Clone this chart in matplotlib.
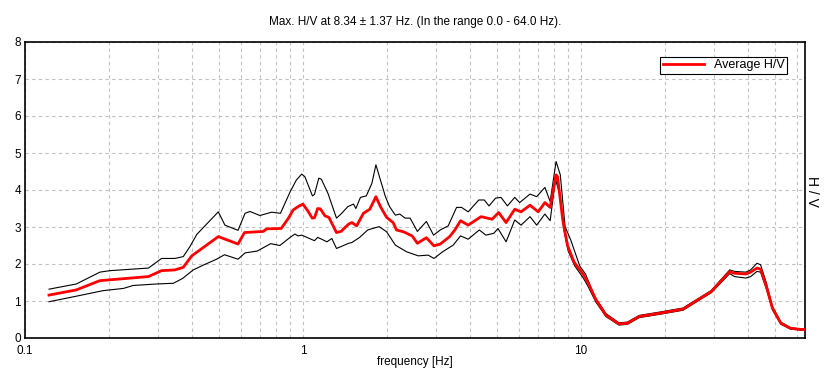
import matplotlib
matplotlib.use("Agg")
import matplotlib.pyplot as plt
from matplotlib.ticker import LogLocator, FixedLocator, NullFormatter, FixedFormatter

plt.rcParams['font.family'] = ['Liberation Sans', 'DejaVu Sans']

title = "Max. H/V at 8.34 \u00b1 1.37 Hz. (In the range 0.0 - 64.0 Hz)."
xlabel = "frequency [Hz]"
ylabel = "H / V"
legend_label = "Average H/V"
x_ticks = [0.1, 1, 10]
x_ticklabels = ["0.1", "1", "10"]
y_ticks = [0, 1, 2, 3, 4, 5, 6, 7, 8]

# Average H/V curve
avg_f = [0.122, 0.153, 0.186, 0.278, 0.310, 0.346, 0.371, 0.398, 0.496, 0.584, 0.616,
         0.720, 0.740, 0.835, 0.887, 0.922, 0.960, 0.999, 1.04, 1.08, 1.10, 1.13, 1.155,
         1.20, 1.24, 1.32, 1.37, 1.46, 1.50, 1.56, 1.65, 1.74, 1.83, 1.90, 2.00, 2.11,
         2.17, 2.30, 2.47, 2.58, 2.78, 2.96, 3.12, 3.37, 3.52, 3.69, 3.93, 4.37, 4.79,
         5.06, 5.38, 5.78, 6.09, 6.56, 7.02, 7.42, 7.75, 8.14, 8.24, 8.6, 8.95, 9.45,
         10.2, 10.6, 11.3, 12.3, 13.7, 14.7, 16.2, 19.2, 23.3, 26.6, 29.4, 34.3, 35.7,
         39.2, 40.8, 43.0, 44.3, 46.5, 48.9, 52.4, 56.8, 62.4, 64.0]
avg_v = [1.16, 1.30, 1.55, 1.66, 1.82, 1.84, 1.91, 2.22, 2.74, 2.54, 2.85,
         2.88, 2.95, 2.96, 3.24, 3.46, 3.55, 3.62, 3.44, 3.24, 3.25, 3.50, 3.49,
         3.30, 3.26, 2.85, 2.88, 3.08, 3.12, 3.03, 3.37, 3.48, 3.82, 3.55, 3.26, 3.12,
         2.92, 2.87, 2.76, 2.56, 2.71, 2.49, 2.54, 2.74, 2.92, 3.17, 3.05, 3.28, 3.21,
         3.39, 3.12, 3.48, 3.41, 3.59, 3.41, 3.66, 3.53, 4.41, 4.36, 3.20, 2.50, 2.05,
         1.72, 1.50, 1.05, 0.62, 0.38, 0.40, 0.58, 0.67, 0.78, 1.05, 1.25, 1.79, 1.75,
         1.73, 1.78, 1.89, 1.86, 1.39, 0.80, 0.40, 0.26, 0.23, 0.23]

# Upper bound curve
up_f = [0.122, 0.153, 0.186, 0.202, 0.278, 0.310, 0.346, 0.371, 0.392, 0.415, 0.496,
        0.524, 0.584, 0.619, 0.645, 0.700, 0.771, 0.830, 0.899, 0.947, 0.990, 1.016,
        1.082, 1.10, 1.14, 1.165, 1.23, 1.32, 1.37, 1.45, 1.52, 1.55, 1.61, 1.69, 1.77,
        1.83, 1.90, 1.98, 2.05, 2.15, 2.23, 2.33, 2.43, 2.58, 2.78, 2.95, 3.12, 3.33,
        3.57, 3.72, 3.93, 4.29, 4.49, 4.67, 4.93, 5.16, 5.44, 5.78, 6.02, 6.56, 6.93,
        7.42, 7.75, 8.14, 8.43, 8.77, 9.19, 9.9, 10.4, 11.2, 12.3, 13.7, 14.7, 16.2,
        19.2, 23.3, 26.6, 29.4, 34.3, 35.7, 39.2, 40.8, 43.0, 44.3, 46.5, 48.9, 52.4,
        56.8, 62.4, 64.0]
up_v = [1.32, 1.46, 1.78, 1.82, 1.89, 2.15, 2.15, 2.20, 2.47, 2.80, 3.41,
        3.05, 2.91, 3.37, 3.42, 3.31, 3.40, 3.37, 3.95, 4.27, 4.43, 4.36,
        3.84, 3.88, 4.32, 4.29, 3.91, 3.24, 3.35, 3.55, 3.62, 3.50, 3.80, 3.84, 4.18,
        4.68, 4.27, 3.82, 3.55, 3.32, 3.35, 3.24, 3.24, 2.88, 3.15, 2.78, 2.92, 3.03,
        3.53, 3.53, 3.41, 3.73, 3.73, 3.57, 3.78, 3.80, 3.57, 3.80, 3.66, 3.89, 3.82,
        4.07, 3.69, 4.77, 4.41, 3.01, 2.65, 1.95, 1.72, 1.12, 0.66, 0.41, 0.43, 0.61,
        0.70, 0.81, 1.08, 1.28, 1.84, 1.80, 1.78, 1.84, 2.02, 1.98, 1.48, 0.85, 0.43,
        0.28, 0.24, 0.24]

# Lower bound curve
lo_f = [0.122, 0.153, 0.191, 0.226, 0.245, 0.298, 0.342, 0.369, 0.403, 0.438, 0.489,
        0.522, 0.584, 0.619, 0.685, 0.765, 0.826, 0.899, 0.935, 0.960, 0.990, 1.10,
        1.13, 1.22, 1.27, 1.32, 1.37, 1.46, 1.50, 1.60, 1.71, 1.88, 2.00, 2.15, 2.36,
        2.60, 2.82, 2.96, 3.18, 3.47, 3.69, 3.93, 4.31, 4.55, 4.86, 5.03, 5.38, 5.78,
        6.09, 6.56, 6.93, 7.42, 7.75, 8.1, 8.43, 8.66, 9.0, 9.5, 10.2, 10.6, 11.3,
        12.3, 13.7, 14.7, 16.2, 19.2, 23.3, 26.6, 29.4, 34.3, 35.7, 39.2, 40.8, 43.0,
        44.3, 46.5, 48.9, 52.4, 56.8, 62.4, 64.0]
lo_v = [0.98, 1.13, 1.28, 1.34, 1.42, 1.46, 1.48, 1.61, 1.84, 1.97, 2.13,
        2.25, 2.13, 2.30, 2.35, 2.55, 2.50, 2.72, 2.81, 2.76, 2.78, 2.63,
        2.72, 2.60, 2.69, 2.42, 2.47, 2.56, 2.58, 2.72, 2.92, 3.01, 2.87, 2.51, 2.33,
        2.22, 2.24, 2.15, 2.33, 2.51, 2.76, 2.67, 2.92, 2.78, 2.83, 2.96, 2.60, 3.19,
        3.05, 3.28, 3.05, 3.35, 3.17, 4.29, 3.82, 2.96, 2.35, 1.95, 1.62, 1.40, 0.98,
        0.58, 0.35, 0.37, 0.55, 0.64, 0.75, 1.02, 1.22, 1.74, 1.66, 1.62, 1.66, 1.80,
        1.78, 1.32, 0.76, 0.37, 0.24, 0.21, 0.21]

fig = plt.figure(figsize=(8.26, 3.81), dpi=100)
fig.patch.set_facecolor("white")
ax = fig.add_axes([25/826, 1-338/381, 780/826, 296/381])

ax.plot(up_f, up_v, color="black", lw=0.8, zorder=3)
ax.plot(lo_f, lo_v, color="black", lw=0.8, zorder=3)
ax.plot(avg_f, avg_v, color="#ff0000", lw=2.0, zorder=4, label=legend_label)

ax.set_xscale("log")
ax.set_xlim(0.1, 64)
ax.set_ylim(0, 8)

ax.xaxis.set_major_locator(FixedLocator(x_ticks))
ax.xaxis.set_major_formatter(FixedFormatter(x_ticklabels))
ax.xaxis.set_minor_locator(LogLocator(base=10, subs=[2, 3, 4, 5, 6, 7, 8, 9]))
ax.xaxis.set_minor_formatter(NullFormatter())
ax.yaxis.set_major_locator(FixedLocator(y_ticks))

ax.grid(True, which="both", axis="x", color="#c0c0c0", linestyle=(0, (3, 3)), lw=0.8)
ax.grid(True, which="major", axis="y", color="#c0c0c0", linestyle=(0, (3, 3)), lw=0.8)
ax.set_axisbelow(True)

ax.tick_params(which="both", length=0, labelsize=8.5)
ax.tick_params(axis="x", pad=5)
ax.tick_params(axis="y", pad=3)
for s in ax.spines.values():
    s.set_color("black")
    s.set_linewidth(1.2)

ax.set_title(title, fontsize=8.5, pad=12)
ax.set_xlabel(xlabel, fontsize=8.5, labelpad=-1)
fig.text(812/826, 1-191/381, ylabel, fontsize=10, rotation=270,
         ha="center", va="center")

leg = ax.legend(loc="upper right", bbox_to_anchor=(0.977, 0.951), fontsize=9,
                frameon=True, fancybox=False, edgecolor="black", framealpha=1,
                handlelength=3.3, borderpad=0.2, handletextpad=0.8, borderaxespad=0)
leg.get_frame().set_linewidth(0.8)

fig.savefig("out.png", dpi=100, facecolor="white")
